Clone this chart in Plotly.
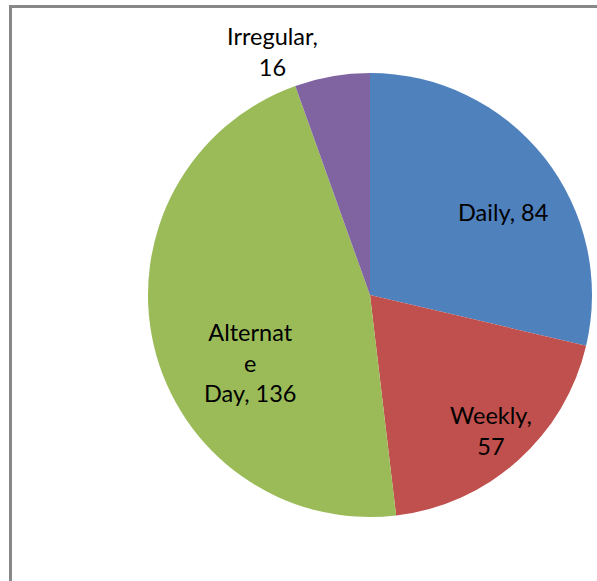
import plotly.graph_objects as go

labels = ["Daily", "Weekly", "Alternate Day", "Irregular"]
values = [84, 57, 136, 16]
label_text = ["Daily, 84", "Weekly,<br>57", "Alternat<br>e<br>Day, 136", "Irregular,<br>16"]
colors = ["#4F81BD", "#C0504D", "#9BBB59", "#8064A2"]

W, H = 597, 581


def px(x):
    return x / W


def py(y):
    return 1 - y / H


fig = go.Figure()
fig.add_trace(go.Pie(
    labels=labels, values=values, sort=False, direction="clockwise", rotation=0,
    marker=dict(colors=colors, line=dict(width=0)),
    textinfo="none", hoverinfo="label+value", showlegend=False,
    domain=dict(x=[px(148), px(592)], y=[py(517), py(73)]),
))

# label positions (reference pixels, centre of text block) for each slice
label_pos = [(503, 212), (491, 430), (250, 362), (272, 51)]
for txt, (x, y) in zip(label_text, label_pos):
    fig.add_annotation(x=px(x), y=py(y), xref="paper", yref="paper",
                       xanchor="center", yanchor="middle",
                       text=txt, showarrow=False, align="center",
                       font=dict(family="Lato, Open Sans, sans-serif", size=23.5, color="#000000"))

fig.add_shape(type="rect", xref="paper", yref="paper",
              x0=px(10.5), x1=1.1, y0=-0.1, y1=py(6.5),
              line=dict(color="#888888", width=3))

fig.update_layout(width=W, height=H, margin=dict(l=0, r=0, t=0, b=0),
                  paper_bgcolor="white", plot_bgcolor="white")
fig.write_html("out.html", config={"displayModeBar": False},
               post_script="document.body.style.margin='0';")
